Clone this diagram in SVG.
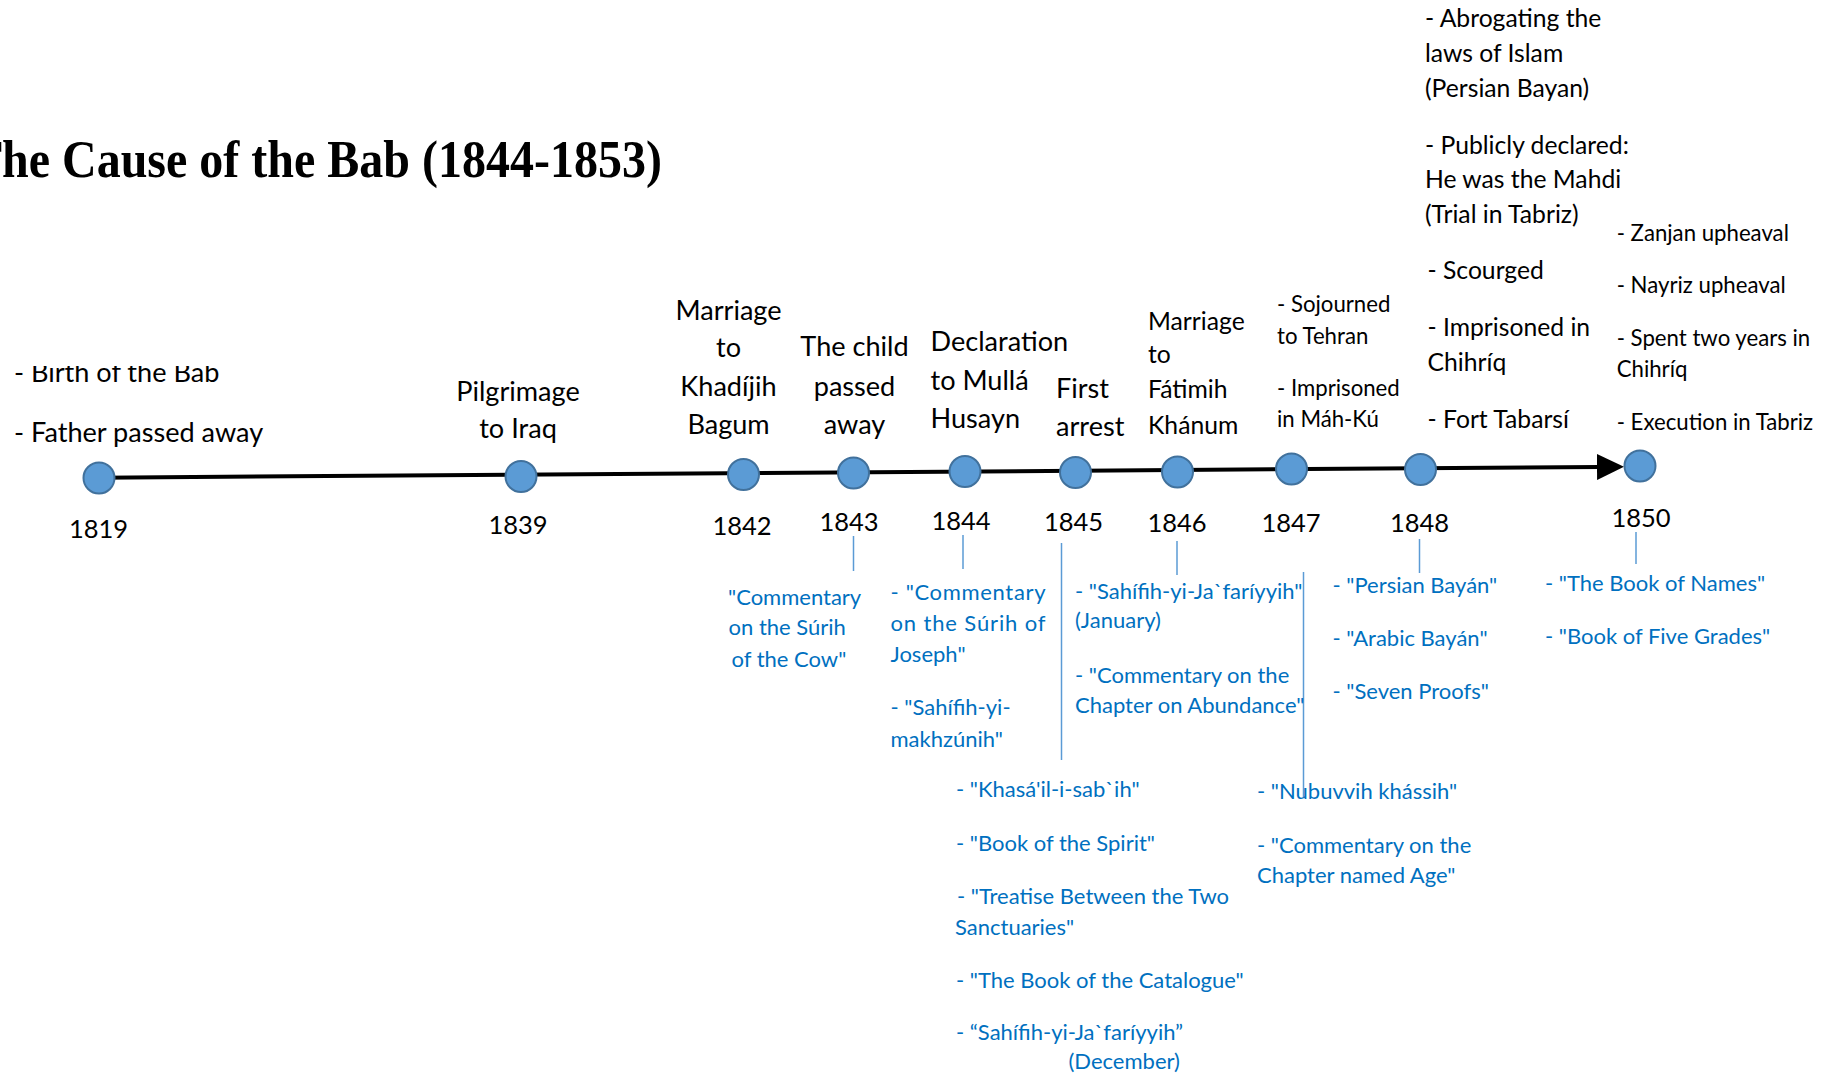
<svg xmlns="http://www.w3.org/2000/svg" width="1825" height="1076" viewBox="0 0 1825 1076">
<style>
  text { font-family: Lato, "Liberation Sans", sans-serif; fill: #000; }
  .lg { font-size: 27.1px; }
  .md { font-size: 24.7px; }
  .sm { font-size: 22.2px; }
  .bl { font-size: 22px; fill: #0070C0; }
  .yr { font-size: 25.5px; text-anchor: middle; }
  .c { text-anchor: middle; }
  .title { font-family: "Liberation Serif", "Times New Roman", serif; font-weight: bold; font-size: 52px; }
  .node { fill: #5B9BD5; stroke: #41719C; stroke-width: 2; }
  .tick { stroke: #5B9BD5; stroke-width: 1.5; fill: none; }
  .axis { stroke: #000; stroke-width: 4; fill: none; }
</style>
<defs>
  <marker id="arr" viewBox="0 0 27 26" markerWidth="27" markerHeight="26" refX="3" refY="13" orient="auto" markerUnits="userSpaceOnUse">
    <path d="M0,0 L27,13 L0,26 Z" fill="#000"/>
  </marker>
  <clipPath id="clipBirth"><rect x="0" y="366" width="400" height="40"/></clipPath>
</defs>
<rect width="1825" height="1076" fill="#fff"/>

<text id="title" class="title" x="-30" y="177" textLength="692" lengthAdjust="spacingAndGlyphs">The Cause of the Bab (1844-1853)</text>

<g id="connectors">
  <line class="axis" x1="99" y1="477.7" x2="1600" y2="467" marker-end="url(#arr)"/>
  <line class="tick" x1="853.5" y1="536" x2="853.5" y2="571"/>
  <line class="tick" x1="963" y1="535" x2="963" y2="569"/>
  <line class="tick" x1="1061.5" y1="543" x2="1061.5" y2="760"/>
  <line class="tick" x1="1177" y1="541" x2="1177" y2="575"/>
  <line class="tick" x1="1303.5" y1="572" x2="1303.5" y2="797"/>
  <line class="tick" x1="1419.5" y1="539" x2="1419.5" y2="573"/>
  <line class="tick" x1="1636" y1="532" x2="1636" y2="564"/>
</g>

<g id="n1819">
  <circle class="node" cx="99" cy="478" r="15.5"/>
  <text class="yr" x="98.5" y="538">1819</text>
  <g clip-path="url(#clipBirth)"><text class="lg" x="14" y="382">- Birth of the Bab</text></g>
  <text class="lg" x="14" y="442">- Father passed away</text>
</g>

<g id="n1839">
  <circle class="node" cx="521" cy="476.5" r="15.5"/>
  <text class="yr" x="518" y="534">1839</text>
  <text class="lg c" x="518" y="401">Pilgrimage</text>
  <text class="lg c" x="518" y="438">to Iraq</text>
</g>

<g id="n1842">
  <circle class="node" cx="743.5" cy="474.5" r="15.5"/>
  <text class="yr" x="742" y="535">1842</text>
  <text class="lg c" x="728.5" y="320">Marriage</text>
  <text class="lg c" x="728.5" y="357">to</text>
  <text class="lg c" x="728.5" y="396">Khadíjih</text>
  <text class="lg c" x="728.5" y="434">Bagum</text>
</g>

<g id="n1843">
  <circle class="node" cx="853.5" cy="473" r="15.5"/>
  <text class="yr" x="849" y="531">1843</text>
  <text class="lg c" x="854.5" y="355.5">The child</text>
  <text class="lg c" x="854.5" y="395.5">passed</text>
  <text class="lg c" x="854.5" y="433.5">away</text>
  <text class="bl" x="728" y="604.5">"Commentary</text>
  <text class="bl" x="728.5" y="635">on the Súrih</text>
  <text class="bl" x="731.5" y="667">of the Cow"</text>
</g>

<g id="n1844">
  <circle class="node" cx="965" cy="471.5" r="15.5"/>
  <text class="yr" x="961" y="529.5">1844</text>
  <text class="lg" x="930.5" y="351">Declaration</text>
  <text class="lg" x="930.5" y="390">to Mullá</text>
  <text class="lg" x="930.5" y="427.5">Husayn</text>
  <text class="bl" x="890.5" y="600" textLength="155" lengthAdjust="spacing">-  "Commentary</text>
  <text class="bl" x="890.5" y="630.5" textLength="155" lengthAdjust="spacing">on the Súrih of</text>
  <text class="bl" x="890.5" y="661.5">Joseph"</text>
  <text class="bl" x="890.5" y="715">- "Sahífih-yi-</text>
  <text class="bl" x="890.5" y="746.5">makhzúnih"</text>
</g>

<g id="n1845">
  <circle class="node" cx="1075.5" cy="472.5" r="15.5"/>
  <text class="yr" x="1073.5" y="531">1845</text>
  <text class="lg" x="1056" y="398">First</text>
  <text class="lg" x="1056" y="436">arrest</text>
  <text class="bl" x="956" y="797">- "Khasá'il-i-sab`ih"</text>
  <text class="bl" x="956" y="850.5">- "Book of the Spirit"</text>
  <text class="bl" x="957" y="903.5">- "Treatise Between the Two</text>
  <text class="bl" x="955" y="935">Sanctuaries"</text>
  <text class="bl" x="956" y="987.5">- "The Book of the Catalogue"</text>
  <text class="bl" x="956" y="1040">- “Sahífih-yi-Ja`faríyyih”</text>
  <text class="bl" x="1068.5" y="1068.5">(December)</text>
</g>

<g id="n1846">
  <circle class="node" cx="1177.5" cy="472" r="15.5"/>
  <text class="yr" x="1177" y="531.5">1846</text>
  <text class="md" x="1148" y="330">Marriage</text>
  <text class="md" x="1148" y="363">to</text>
  <text class="md" x="1148" y="398">Fátimih</text>
  <text class="md" x="1148" y="434">Khánum</text>
  <text class="bl" x="1075" y="599">- "Sahífih-yi-Ja`faríyyih"</text>
  <text class="bl" x="1075" y="628">(January)</text>
  <text class="bl" x="1075" y="682.5">- "Commentary on the</text>
  <text class="bl" x="1075" y="713">Chapter on Abundance"</text>
</g>

<g id="n1847">
  <circle class="node" cx="1291.5" cy="469" r="15.5"/>
  <text class="yr" x="1291" y="531.5">1847</text>
  <text class="sm" x="1277" y="312">- Sojourned</text>
  <text class="sm" x="1277" y="344">to Tehran</text>
  <text class="sm" x="1277" y="396">- Imprisoned</text>
  <text class="sm" x="1277" y="427">in Máh-Kú</text>
  <text class="bl" x="1257" y="799">- "Nubuvvih khássih"</text>
  <text class="bl" x="1257" y="852.5">- "Commentary on the</text>
  <text class="bl" x="1257" y="883">Chapter named Age"</text>
</g>

<g id="n1848">
  <circle class="node" cx="1420.5" cy="469.5" r="15.5"/>
  <text class="yr" x="1419.5" y="531.5">1848</text>
  <text class="md" x="1425" y="27">- Abrogating the</text>
  <text class="md" x="1425" y="62">laws of Islam</text>
  <text class="md" x="1425" y="96.5">(Persian Bayan)</text>
  <text class="md" x="1425" y="153.6">- Publicly declared:</text>
  <text class="md" x="1425" y="188.4">He was the Mahdi</text>
  <text class="md" x="1425" y="222.5">(Trial in Tabriz)</text>
  <text class="md" x="1427.5" y="278.5">- Scourged</text>
  <text class="md" x="1427.5" y="335.5">- Imprisoned in</text>
  <text class="md" x="1427.5" y="371.4">Chihríq</text>
  <text class="md" x="1427.5" y="427.5">- Fort Tabarsí</text>
  <text class="bl" x="1332.5" y="593">- "Persian Bayán"</text>
  <text class="bl" x="1332.5" y="645.5">- "Arabic Bayán"</text>
  <text class="bl" x="1332.5" y="699">- "Seven Proofs"</text>
</g>

<g id="n1850">
  <circle class="node" cx="1640" cy="466" r="15.5"/>
  <text class="yr" x="1641" y="527">1850</text>
  <text class="sm" x="1616.7" y="240.5">- Zanjan upheaval</text>
  <text class="sm" x="1616.7" y="292.5">- Nayriz upheaval</text>
  <text class="sm" x="1616.7" y="345.5">- Spent two years in</text>
  <text class="sm" x="1616.7" y="377">Chihríq</text>
  <text class="sm" x="1616.7" y="430">- Execution in Tabriz</text>
  <text class="bl" x="1545" y="591">- "The Book of Names"</text>
  <text class="bl" x="1545" y="644">- "Book of Five Grades"</text>
</g>
</svg>
